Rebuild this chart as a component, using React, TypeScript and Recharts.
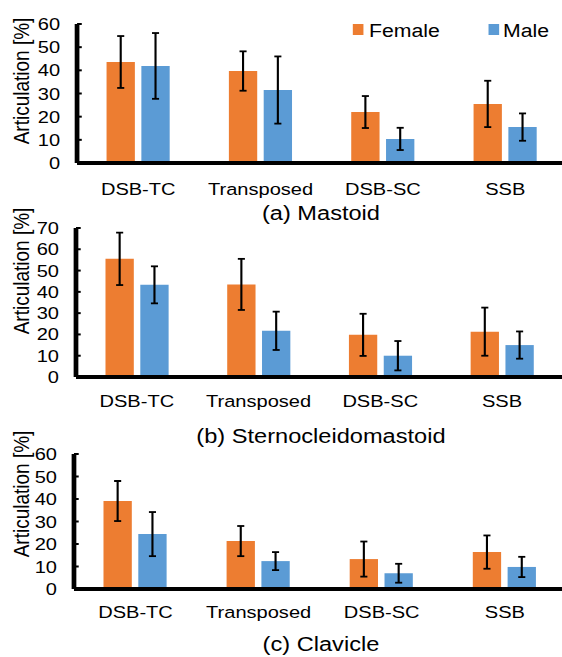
import React from 'react';
import { BarChart, Bar, XAxis, YAxis, ErrorBar } from 'recharts';

// ---------- data ----------
const categories = ['DSB-TC', 'Transposed', 'DSB-SC', 'SSB'];
const seriesNames = ['Female', 'Male'];
const seriesColors = ['#ED7D31', '#5B9BD5'];
const yAxisLabel = 'Articulation [%]';
const panelTitles = ['(a) Mastoid', '(b) Sternocleidomastoid', '(c) Clavicle'];

const mastoidFemale = [43.6, 39.7, 22.0, 25.5];
const mastoidFemaleErr = [11.2, 8.5, 6.9, 10.0];
const mastoidMale = [41.9, 31.5, 10.4, 15.5];
const mastoidMaleErr = [14.2, 14.5, 4.8, 5.9];

const scmFemale = [55.5, 43.5, 19.8, 21.3];
const scmFemaleErr = [12.3, 12.0, 9.9, 11.3];
const scmMale = [43.3, 21.7, 10.0, 15.0];
const scmMaleErr = [8.7, 9.0, 6.9, 6.4];

const clavFemale = [39.1, 21.3, 13.3, 16.4];
const clavFemaleErr = [8.9, 6.7, 7.8, 7.4];
const clavMale = [24.4, 12.4, 7.0, 9.8];
const clavMaleErr = [9.8, 4.0, 4.2, 4.5];

const ticks60 = [0, 10, 20, 30, 40, 50, 60];
const ticks70 = [0, 10, 20, 30, 40, 50, 60, 70];

// ---------- layout ----------
const SX = 1.18;
const FONT = "Arial, 'Liberation Sans', sans-serif";

type Cfg = {
  top: number; height: number; width: number; marginTop: number; xAxisHeight: number;
  yAxisWidth: number; xTickMargin: number; yMax: number; ticks: number[];
  labelCy: number; titleTop: number;
};

const panels: Cfg[] = [
  { top: 0, height: 200, width: 480, marginTop: 24, xAxisHeight: 37, yAxisWidth: 65.3, xTickMargin: 20, yMax: 60, ticks: ticks60, labelCy: 81, titleTop: 203 },
  { top: 200, height: 215, width: 477, marginTop: 28, xAxisHeight: 38, yAxisWidth: 64.4, xTickMargin: 18, yMax: 70, ticks: ticks70, labelCy: 271, titleTop: 426 },
  { top: 425, height: 200, width: 480, marginTop: 29, xAxisHeight: 36, yAxisWidth: 62.7, xTickMargin: 17, yMax: 60, ticks: ticks60, labelCy: 494, titleTop: 634 },
];

const panelData = [
  [mastoidFemale, mastoidFemaleErr, mastoidMale, mastoidMaleErr],
  [scmFemale, scmFemaleErr, scmMale, scmMaleErr],
  [clavFemale, clavFemaleErr, clavMale, clavMaleErr],
];

function Panel({ cfg, values }: { cfg: Cfg; values: number[][] }) {
  const [f, fe, m, me] = values;
  const data = categories.map((c, i) => ({
    category: c, female: f[i], femaleErr: fe[i], male: m[i], maleErr: me[i],
  }));
  return (
    <div style={{ position: 'absolute', left: 0, top: cfg.top }}>
      <BarChart
        width={cfg.width}
        height={cfg.height}
        data={data}
        margin={{ top: cfg.marginTop, right: 0, bottom: 0, left: 0 }}
        barGap={5.5}
      >
        <XAxis
          dataKey="category"
          height={cfg.xAxisHeight}
          tickLine={false}
          tickSize={0}
          tickMargin={cfg.xTickMargin}
          interval={0}
          axisLine={{ stroke: '#000', strokeWidth: 4 }}
          tick={{ fill: '#000', fontSize: 17, fontFamily: FONT }}
        />
        <YAxis
          type="number"
          width={cfg.yAxisWidth}
          domain={[0, cfg.yMax]}
          ticks={cfg.ticks}
          interval={0}
          allowDataOverflow
          tickSize={-4}
          tickMargin={18.4}
          axisLine={{ stroke: '#000', strokeWidth: 4 }}
          tickLine={{ stroke: '#000', strokeWidth: 2 }}
          tick={{ fill: '#000', fontSize: 17, fontFamily: FONT }}
        />
        <Bar dataKey="female" name={seriesNames[0]} fill={seriesColors[0]} barSize={24} isAnimationActive={false}>
          <ErrorBar dataKey="femaleErr" direction="y" width={3} stroke="#000" strokeWidth={1.8} />
        </Bar>
        <Bar dataKey="male" name={seriesNames[1]} fill={seriesColors[1]} barSize={24} isAnimationActive={false}>
          <ErrorBar dataKey="maleErr" direction="y" width={3} stroke="#000" strokeWidth={1.8} />
        </Bar>
      </BarChart>
    </div>
  );
}

const legendSquares = [299.2, 413.6];
const legendTexts = [312.7, 426.3];

export default function App() {
  return (
    <div style={{ position: 'absolute', left: 0, top: 0, width: 562, height: 657, overflow: 'hidden', background: '#fff', fontFamily: FONT }}>
      <div style={{ position: 'relative', width: 480, height: 657, transform: `scaleX(${SX})`, transformOrigin: '0 0' }}>
        {panels.map((cfg, i) => (
          <Panel key={i} cfg={cfg} values={panelData[i]} />
        ))}
        {panels.map((cfg, i) => (
          <div key={'t' + i} style={{ position: 'absolute', left: 272, top: cfg.titleTop, transform: 'translateX(-50%)', fontSize: 20, lineHeight: 1, whiteSpace: 'nowrap', color: '#000' }}>
            {panelTitles[i]}
          </div>
        ))}
        {panels.map((cfg, i) => (
          <div key={'l' + i} style={{ position: 'absolute', left: 17.8, top: cfg.labelCy, transform: 'translate(-50%, -50%) rotate(-90deg)', fontSize: 19, lineHeight: 1, whiteSpace: 'nowrap', color: '#000' }}>
            {yAxisLabel}
          </div>
        ))}
        {seriesNames.map((name, i) => (
          <React.Fragment key={name}>
            <div style={{ position: 'absolute', left: legendSquares[i], top: 23.5, width: 9.3, height: 11.5, background: seriesColors[i] }} />
            <div style={{ position: 'absolute', left: legendTexts[i], top: 21.8, fontSize: 18, lineHeight: 1, whiteSpace: 'nowrap', color: '#000' }}>{name}</div>
          </React.Fragment>
        ))}
      </div>
    </div>
  );
}
